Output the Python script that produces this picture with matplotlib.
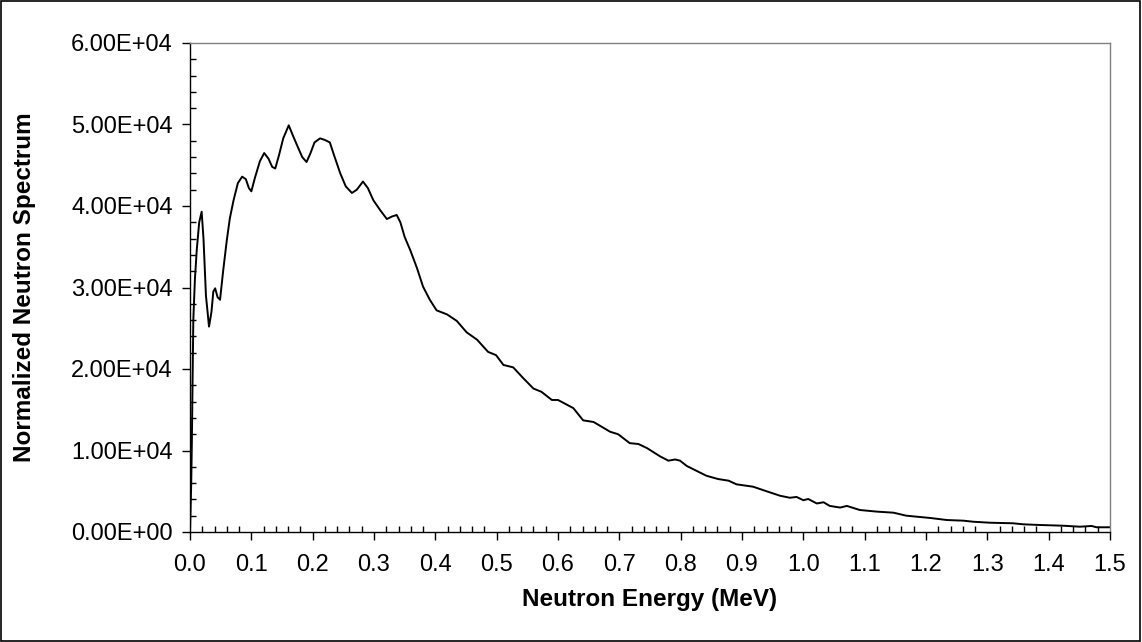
import matplotlib
matplotlib.use("Agg")
import matplotlib.pyplot as plt
from matplotlib.ticker import MultipleLocator
from matplotlib.patches import Rectangle

plt.rcParams['font.family'] = ['Liberation Sans', 'DejaVu Sans']

energy_mev = [0.000, 0.002, 0.003, 0.0054, 0.008, 0.011, 0.015, 0.019, 0.022, 0.026,
              0.031, 0.035, 0.038, 0.041, 0.045, 0.049, 0.054, 0.060, 0.065, 0.071,
              0.078, 0.085, 0.091, 0.096, 0.100, 0.106, 0.114, 0.121, 0.128, 0.134,
              0.139, 0.145, 0.152, 0.161, 0.168, 0.176, 0.183, 0.190, 0.196, 0.203,
              0.212, 0.220, 0.228, 0.235, 0.245, 0.254, 0.264, 0.272, 0.282, 0.290,
              0.299, 0.310, 0.321, 0.329, 0.337, 0.343, 0.350, 0.359, 0.370, 0.380,
              0.391, 0.402, 0.419, 0.435, 0.451, 0.468, 0.486, 0.499, 0.511, 0.527,
              0.543, 0.560, 0.573, 0.590, 0.600, 0.625, 0.641, 0.658, 0.685, 0.698,
              0.717, 0.731, 0.745, 0.766, 0.780, 0.791, 0.799, 0.810, 0.826, 0.842,
              0.861, 0.878, 0.891, 0.918, 0.940, 0.962, 0.978, 0.989, 1.000, 1.008,
              1.022, 1.033, 1.043, 1.060, 1.071, 1.092, 1.120, 1.147, 1.168, 1.207,
              1.234, 1.261, 1.277, 1.304, 1.342, 1.359, 1.386, 1.424, 1.451, 1.470,
              1.478, 1.500]

spectrum_1e4 = [0.00, 0.60, 1.09, 2.60, 3.10, 3.46, 3.80, 3.93, 3.60, 2.90,
                2.52, 2.70, 2.95, 2.99, 2.88, 2.85, 3.20, 3.58, 3.85, 4.07,
                4.28, 4.36, 4.33, 4.22, 4.18, 4.35, 4.55, 4.65, 4.58, 4.48,
                4.46, 4.62, 4.83, 4.99, 4.86, 4.72, 4.60, 4.54, 4.64, 4.78,
                4.83, 4.81, 4.78, 4.62, 4.40, 4.24, 4.16, 4.20, 4.30, 4.22,
                4.07, 3.95, 3.84, 3.87, 3.89, 3.80, 3.62, 3.46, 3.24, 3.01,
                2.85, 2.72, 2.67, 2.59, 2.45, 2.36, 2.21, 2.17, 2.05, 2.02,
                1.89, 1.76, 1.72, 1.62, 1.62, 1.52, 1.37, 1.35, 1.23, 1.20,
                1.09, 1.08, 1.03, 0.93, 0.875, 0.89, 0.875, 0.81, 0.75, 0.69,
                0.65, 0.63, 0.585, 0.556, 0.50, 0.445, 0.42, 0.43, 0.39, 0.405,
                0.35, 0.365, 0.32, 0.30, 0.32, 0.27, 0.25, 0.237, 0.20, 0.172,
                0.147, 0.139, 0.126, 0.114, 0.107, 0.094, 0.086, 0.077, 0.065, 0.074,
                0.058, 0.058]

spectrum = [v * 1e4 for v in spectrum_1e4]

xtick_values = [i / 10 for i in range(16)]
xtick_labels = ["0.0", "0.1", "0.2", "0.3", "0.4", "0.5", "0.6", "0.7",
                "0.8", "0.9", "1.0", "1.1", "1.2", "1.3", "1.4", "1.5"]
ytick_values = [0, 10000, 20000, 30000, 40000, 50000, 60000]
ytick_labels = ["0.00E+00", "1.00E+04", "2.00E+04", "3.00E+04",
                "4.00E+04", "5.00E+04", "6.00E+04"]

fig = plt.figure(figsize=(11.42, 6.42), dpi=100)
ax = fig.add_axes([190 / 1142, 1 - 532 / 642, 920 / 1142, 489 / 642])

ax.plot(energy_mev, spectrum, color='black', linewidth=1.4, solid_joinstyle='round')

ax.set_xlim(0, 1.5)
ax.set_ylim(0, 60000)
ax.set_xticks(xtick_values)
ax.set_xticklabels(xtick_labels)
ax.set_yticks(ytick_values)
ax.set_yticklabels(ytick_labels)
ax.xaxis.set_minor_locator(MultipleLocator(0.02))
ax.yaxis.set_minor_locator(MultipleLocator(2000))

ax.tick_params(axis='both', which='major', direction='out', length=5.5, width=1,
               color='black', labelsize=17, labelcolor='black')
ax.tick_params(axis='x', which='major', pad=10)
ax.tick_params(axis='y', which='major', pad=7)
ax.tick_params(axis='both', which='minor', direction='in', length=4, width=1, color='black')

for s in ['left', 'bottom']:
    ax.spines[s].set_color('black')
    ax.spines[s].set_linewidth(1)
for s in ['top', 'right']:
    ax.spines[s].set_color('#808080')
    ax.spines[s].set_linewidth(1)

ax.set_xlabel('Neutron Energy (MeV)', fontsize=17.5, fontweight='bold', labelpad=9)
ax.set_ylabel('Normalized Neutron Spectrum', fontsize=17.5, fontweight='bold')
ax.yaxis.set_label_coords((36 - 190) / 920, 0.5)

fig.patches.append(Rectangle((0.0005, 0.001), 0.998, 0.997, transform=fig.transFigure,
                             fill=False, edgecolor='black', linewidth=1.2))

fig.savefig('out.png', dpi=100, facecolor='white')
